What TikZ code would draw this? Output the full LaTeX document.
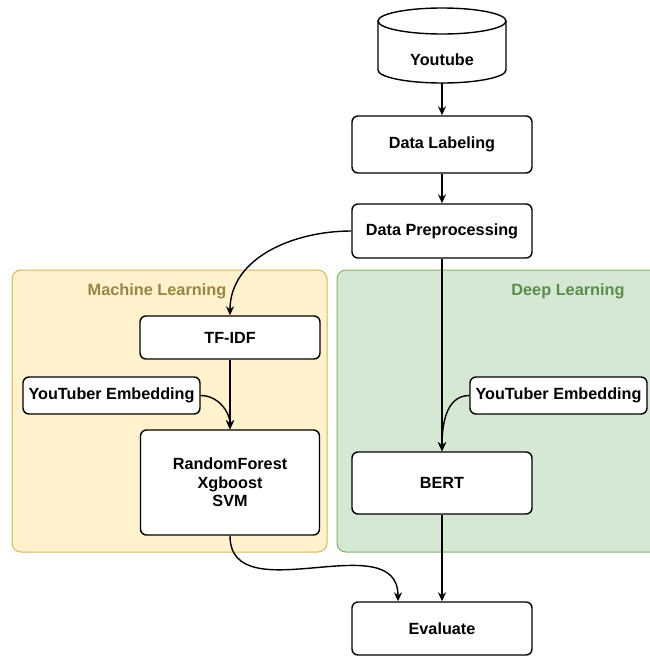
\documentclass[tikz,border=0pt]{standalone}
\usepackage{fontspec}
\setmainfont{Liberation Sans}
\usetikzlibrary{arrows.meta}
\definecolor{mlfill}{HTML}{FFF2CC}
\definecolor{mldraw}{HTML}{D6B656}
\definecolor{mltext}{HTML}{998545}
\definecolor{dlfill}{HTML}{D5E8D4}
\definecolor{dldraw}{HTML}{82B366}
\definecolor{dltext}{HTML}{5D8C4A}
\tikzset{
  box/.style={draw=black, line width=1.4pt, rounded corners=6pt, fill=white, align=center,
    font=\fontsize{16.2}{18.5}\selectfont\bfseries, inner sep=0pt},
  arr/.style={line width=1.4pt, -{Stealth[length=9pt,width=8pt]}},
  group/.style={line width=1pt, rounded corners=9pt},
  gtitle/.style={font=\fontsize{16.3}{19}\selectfont\bfseries},
}
\begin{document}
\begin{tikzpicture}[x=1pt,y=-1pt]
\useasboundingbox (0,0) rectangle (650,656);
% containers
\draw[group, fill=mlfill, draw=mldraw] (12,270) rectangle (327,552);
\draw[group, fill=dlfill, draw=dldraw] (337,270) rectangle (664,552);
\node[gtitle, text=mltext] (mltitle) at (157,291) {Machine Learning};
\node[gtitle, text=dltext] (dltitle) at (568,291) {Deep Learning};
% cylinder
\draw[line width=1.4pt, fill=white] (378,21) -- (378,70) arc[start angle=180, end angle=0, x radius=64, y radius=13] -- (506,21);
\draw[line width=1.4pt, fill=white] (442,21) ellipse[x radius=64, y radius=13];
\node[minimum width=128pt, minimum height=75pt, inner sep=0pt] (yt) at (442,45.5) {};
\node[font=\fontsize{16.2}{19}\selectfont\bfseries] (yttext) at (442,60) {Youtube};
% boxes
\node[box, minimum width=180pt, minimum height=57pt] (lab) at (442,144.5) {Data Labeling};
\node[box, minimum width=180pt, minimum height=54pt] (pre) at (442,231) {Data Preprocessing};
\node[box, minimum width=180pt, minimum height=43pt] (tfidf) at (230,337.5) {TF-IDF};
\node[box, minimum width=177pt, minimum height=37pt] (yel) at (111.5,395.5) {YouTuber Embedding};
\node[box, minimum width=179pt, minimum height=105pt] (rf) at (230,482.5) {RandomForest\\Xgboost\\SVM};
\node[box, minimum width=177pt, minimum height=37pt] (yer) at (558.5,395.5) {YouTuber Embedding};
\node[box, minimum width=180pt, minimum height=62pt] (bert) at (442,483) {BERT};
\node[box, minimum width=180pt, minimum height=53pt] (eval) at (442,628.5) {Evaluate};
% edges
\draw[arr] (yt.south) -- (lab.north);
\draw[arr] (lab.south) -- (pre.north);
\draw[arr] (pre.west) to[out=180,in=90] (tfidf.north);
\draw[arr] (pre.south) -- (bert.north);
\draw[arr] (tfidf.south) -- (rf.north);
\draw[arr] (yel.east) to[out=0,in=90] (rf.north);
\draw[arr] (yer.west) to[out=180,in=90] (bert.north);
\draw[arr] (rf.south) to[out=-90,in=90,looseness=1.1] ([xshift=-44pt]eval.north);
\draw[arr] (bert.south) -- (eval.north);
\end{tikzpicture}
\end{document}
